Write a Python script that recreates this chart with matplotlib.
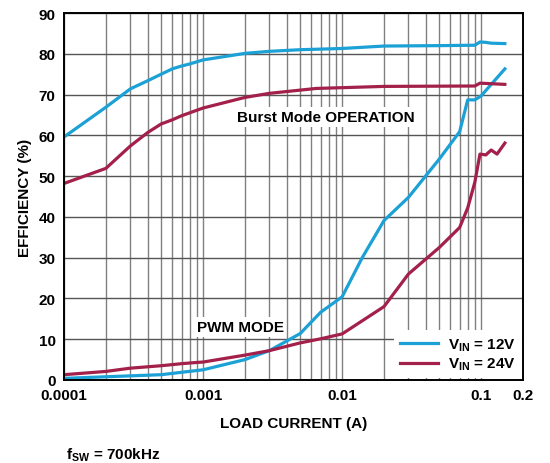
import matplotlib
matplotlib.use('Agg')
import matplotlib.pyplot as plt
from matplotlib.ticker import LogLocator, NullFormatter

plt.rcParams['font.family'] = ['Liberation Sans', 'DejaVu Sans']
plt.rcParams['font.weight'] = 'bold'
plt.rcParams['mathtext.fontset'] = 'custom'
plt.rcParams['mathtext.rm'] = 'Liberation Sans:bold'
plt.rcParams['mathtext.bf'] = 'Liberation Sans:bold'
plt.rcParams['mathtext.it'] = 'Liberation Sans:bold'

# efficiency vs load current, 12V input
i_12_burst = [1e-4, 2e-4, 3e-4, 4e-4, 5e-4, 6e-4, 7e-4, 8e-4, 1e-3, 2e-3, 3e-3,
              5e-3, 1e-2, 2e-2, 5e-2, 9e-2, 0.098, 0.108, 0.118, 0.148]
eff_12_burst = [59.6, 66.9, 71.4, 73.4, 75.0, 76.3, 77.0, 77.5, 78.5, 80.1, 80.6,
                81.0, 81.3, 81.9, 82.0, 82.1, 82.9, 82.8, 82.6, 82.5]
i_12_pwm = [1e-4, 5e-4, 1e-3, 2e-3, 3e-3, 5e-3, 7e-3, 1e-2, 0.014, 0.02, 0.03,
            0.05, 0.07, 0.08, 0.09, 0.1, 0.148]
eff_12_pwm = [0.4, 1.3, 2.5, 5.0, 7.2, 11.4, 16.6, 20.4, 30.1, 39.1, 44.8,
              54.2, 60.9, 68.7, 68.7, 69.7, 76.3]

# efficiency vs load current, 24V input
i_24_burst = [1e-4, 2e-4, 3e-4, 4e-4, 5e-4, 6e-4, 7e-4, 1e-3, 2e-3, 3e-3,
              6.5e-3, 2e-2, 9e-2, 0.098, 0.148]
eff_24_burst = [48.2, 51.9, 57.4, 60.7, 62.8, 63.8, 64.8, 66.7, 69.3, 70.3,
                71.5, 72.0, 72.1, 72.8, 72.5]
i_24_pwm = [1e-4, 2e-4, 3e-4, 5e-4, 7e-4, 9e-4, 1e-3, 2e-3, 3e-3, 5e-3, 7e-3,
            1e-2, 2e-2, 3e-2, 5e-2, 0.07, 0.08, 0.09, 0.098, 0.108, 0.118, 0.13, 0.148]
eff_24_pwm = [1.3, 2.1, 2.9, 3.5, 4.0, 4.3, 4.4, 6.1, 7.2, 9.1, 10.1,
              11.3, 18.0, 26.0, 32.5, 37.4, 42.2, 48.5, 55.4, 55.2, 56.4, 55.4, 58.1]

x_ticks = [1e-4, 1e-3, 1e-2, 0.1, 0.2]
x_tick_labels = ['0.0001', '0.001', '0.01', '0.1', '0.2']
y_ticks = list(range(0, 91, 10))

blue = '#1ba1d6'
red = '#a3204a'
fs = 11

fig = plt.figure(figsize=(5.5, 4.64), dpi=100)
ax = fig.add_axes([0.1164, 0.1789, 0.8346, 0.7909])

ax.set_xscale('log')
ax.set_xlim(1e-4, 0.2)
ax.set_ylim(0, 90)

ax.xaxis.set_minor_locator(LogLocator(base=10, subs=range(2, 10)))
ax.xaxis.set_minor_formatter(NullFormatter())
ax.set_xticks(x_ticks)
ax.set_xticklabels(x_tick_labels)
ax.set_yticks(y_ticks)
ax.tick_params(which='both', length=0, labelsize=fs, pad=6)

ax.grid(True, axis='x', which='both', color='#808080', lw=1.0)
ax.grid(True, axis='y', which='major', color='#555555', lw=1.0)
ax.set_axisbelow(True)
for s in ax.spines.values():
    s.set_linewidth(1.4)

lw = 2.3
ax.plot(i_12_burst, eff_12_burst, color=blue, lw=lw, label=r'$\mathbf{V_{IN}}$ = 12V')
ax.plot(i_12_pwm, eff_12_pwm, color=blue, lw=lw)
ax.plot(i_24_burst, eff_24_burst, color=red, lw=lw, label=r'$\mathbf{V_{IN}}$ = 24V')
ax.plot(i_24_pwm, eff_24_pwm, color=red, lw=lw)

box = dict(facecolor='white', edgecolor='none', pad=2)
ax.text(0.0076, 64.5, 'Burst Mode OPERATION', ha='center', va='center',
        fontsize=fs, fontweight='bold', bbox=box)
ax.text(0.00185, 13, 'PWM MODE', ha='center', va='center',
        fontsize=fs, fontweight='bold', bbox=box)

leg = ax.legend(loc='lower right', frameon=True, fancybox=False, fontsize=fs,
                handlelength=2.5, handletextpad=0.6, borderaxespad=0.1,
                labelspacing=0.2)
leg.get_frame().set_edgecolor('none')
leg.get_frame().set_facecolor('white')
leg.get_frame().set_alpha(1)

ax.set_xlabel('LOAD CURRENT (A)', fontsize=fs, fontweight='bold', labelpad=10)
ax.set_ylabel('EFFICIENCY (%)', fontsize=fs, fontweight='bold', labelpad=5)

fig.text(66 / 550, 1 - 455 / 464, r'$\mathbf{f_{SW}}$ = 700kHz', fontsize=fs,
         fontweight='bold', va='center', ha='left')

fig.savefig('out.png', dpi=100)
